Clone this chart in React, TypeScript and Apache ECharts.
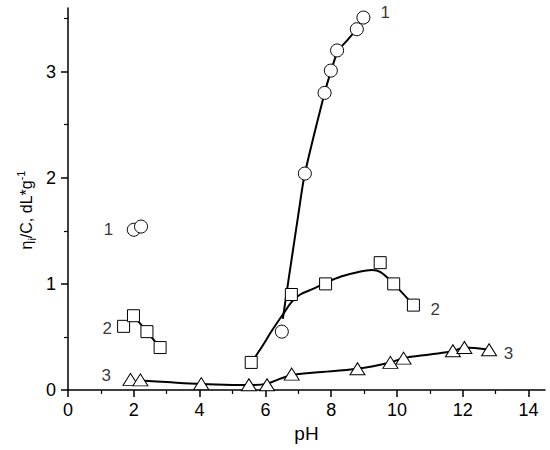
import React, { useEffect, useRef } from "react";
import * as echarts from "echarts";

// Tick labels
const xTicks = [0, 2, 4, 6, 8, 10, 12, 14];
const yTicks = [0, 1, 2, 3];

// Series 1 (circles)
const s1Markers = [
  [2.0, 1.51], [2.22, 1.54], [6.5, 0.55], [7.2, 2.04], [7.8, 2.8],
  [7.99, 3.01], [8.18, 3.2], [8.78, 3.4], [8.98, 3.51],
];
const s1Curve = [
  [6.53, 0.67], [6.7, 1.03], [7.0, 1.65], [7.2, 2.04],
  [7.8, 2.8], [8.0, 3.01], [8.2, 3.19], [8.5, 3.3], [8.78, 3.4],
];

// Series 2 (squares)
const s2Markers = [
  [1.69, 0.6], [1.99, 0.7], [2.4, 0.55], [2.8, 0.4], [5.57, 0.26],
  [6.79, 0.9], [7.83, 1.0], [9.49, 1.2], [9.9, 1.0], [10.5, 0.8],
];
const s2LeftLine = [[1.69, 0.6], [1.99, 0.7], [2.4, 0.55], [2.8, 0.4]];
const s2Curve = [
  [5.6, 0.27], [5.9, 0.41], [6.2, 0.56], [6.55, 0.72], [6.8, 0.83],
  [7.06, 0.9], [7.5, 0.96], [7.83, 1.01], [8.3, 1.07], [8.8, 1.11],
  [9.24, 1.13], [9.5, 1.11], [9.9, 1.0], [10.5, 0.8],
];

// Series 3 (triangles)
const s3Markers = [
  [1.9, 0.1], [2.2, 0.095], [4.05, 0.06], [5.5, 0.05], [6.05, 0.05],
  [6.8, 0.15], [8.8, 0.2], [9.8, 0.26], [10.2, 0.3], [11.7, 0.37],
  [12.05, 0.4], [12.8, 0.38],
];
const s3Curve = [
  [2.2, 0.09], [3.0, 0.075], [4.03, 0.057], [5.0, 0.048], [5.55, 0.047],
  [6.05, 0.06], [6.4, 0.1], [6.8, 0.14], [7.5, 0.165], [8.8, 0.2],
  [9.8, 0.26], [10.2, 0.3], [11.0, 0.335], [11.7, 0.365], [12.05, 0.4],
  [12.8, 0.38],
];

// Curve number labels
const labelNames = ["1", "2", "3", "1", "2", "3"];
const labelCoords = [
  [9.64, 3.56], [11.16, 0.755], [13.39, 0.346],
  [1.23, 1.51], [1.19, 0.58], [1.16, 0.14],
];

const FONT = "Arial, 'Liberation Sans', sans-serif";

export default function App() {
  const ref = useRef<HTMLDivElement>(null);
  useEffect(() => {
    document.body.style.margin = "0";
    const chart = echarts.init(ref.current!, null, { renderer: "svg" });
    const lineSeries = (data: number[][], smooth: number | boolean) => ({
      type: "line",
      data,
      smooth,
      symbol: "none",
      showSymbol: false,
      lineStyle: { color: "#000", width: 2 },
      z: 1,
      silent: true,
    });
    const markerStyle = { color: "#fff", borderColor: "#000", borderWidth: 1, opacity: 1 };
    chart.setOption({
      animation: false,
      backgroundColor: "#fff",
      textStyle: { fontFamily: FONT },
      grid: { left: 68, right: 5, top: 8, bottom: 60, containLabel: false },
      graphic: [
        {
          type: "text",
          x: 26,
          y: 210,
          rotation: Math.PI / 2,
          style: {
            text: "{a|η}{sub|i}{a|/C, dL*g}{sup|-1}",
            align: "center",
            verticalAlign: "middle",
            fill: "#000",
            font: `16px ${FONT}`,
            rich: {
              a: { fontSize: 16, fill: "#000", fontFamily: FONT, lineHeight: 22 },
              sub: { fontSize: 11, fill: "#000", fontFamily: FONT, verticalAlign: "bottom", lineHeight: 22 },
              sup: { fontSize: 11, fill: "#000", fontFamily: FONT, verticalAlign: "top", lineHeight: 22 },
            },
          },
        },
      ],
      xAxis: {
        type: "value",
        min: 0,
        max: 14.5,
        interval: 2,
        name: "pH",
        nameLocation: "middle",
        nameGap: 33,
        nameTextStyle: { fontSize: 19, color: "#000", fontFamily: FONT },
        axisLine: { show: true, onZero: false, lineStyle: { color: "#000", width: 1.5 } },
        axisTick: { show: true, length: 7, customValues: xTicks, lineStyle: { color: "#000", width: 1.5 } },
        minorTick: { show: true, splitNumber: 2, length: 4, lineStyle: { color: "#000", width: 1.2 } },
        axisLabel: { customValues: xTicks, fontSize: 18, color: "#000", margin: 11, fontFamily: FONT },
        splitLine: { show: false },
      },
      yAxis: {
        type: "value",
        min: 0,
        max: 3.6,
        interval: 1,
        axisLine: { show: true, onZero: false, lineStyle: { color: "#000", width: 1.5 } },
        axisTick: { show: true, length: 7, customValues: yTicks, lineStyle: { color: "#000", width: 1.5 } },
        minorTick: { show: true, splitNumber: 2, length: 4, lineStyle: { color: "#000", width: 1.2 } },
        axisLabel: { customValues: yTicks, fontSize: 18, color: "#000", margin: 12, fontFamily: FONT },
        splitLine: { show: false },
      },
      series: [
        lineSeries(s1Curve, 0.25),
        lineSeries(s2Curve, 0.35),
        lineSeries(s2LeftLine, false),
        lineSeries(s3Curve, 0.35),
        {
          type: "scatter",
          data: s1Markers,
          symbol: "circle",
          symbolSize: 13,
          itemStyle: markerStyle,
          z: 5,
        },
        {
          type: "scatter",
          data: s2Markers,
          symbol: "rect",
          symbolSize: 12,
          itemStyle: markerStyle,
          z: 5,
        },
        {
          type: "scatter",
          data: s3Markers,
          symbol: "triangle",
          symbolSize: [15, 12],
          itemStyle: markerStyle,
          z: 5,
        },
        {
          type: "scatter",
          data: labelCoords.map((c, i) => ({ name: labelNames[i], value: c })),
          symbolSize: 1,
          itemStyle: { color: "rgba(0,0,0,0)" },
          label: {
            show: true,
            position: "inside",
            formatter: "{b}",
            fontSize: 17,
            color: "#000",
            fontFamily: FONT,
          },
          z: 6,
        },
      ],
    });
    return () => chart.dispose();
  }, []);
  return <div ref={ref} style={{ width: 550, height: 450 }} />;
}
